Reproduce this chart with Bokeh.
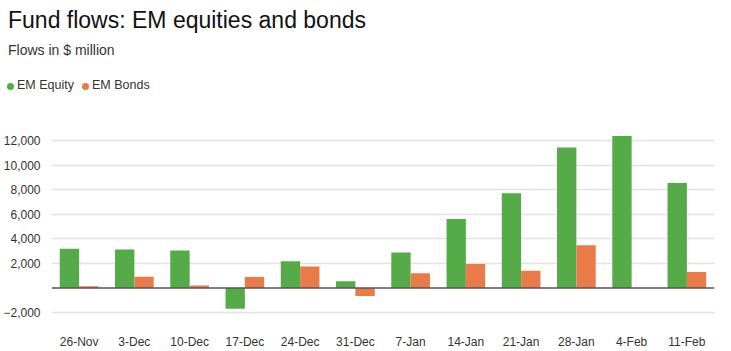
from bokeh.plotting import figure
from bokeh.layouts import column
from bokeh.models import ColumnDataSource, Span, FixedTicker, Div
from bokeh.transform import dodge
from bokeh.embed import file_html
from bokeh.resources import INLINE

weeks = ["26-Nov", "3-Dec", "10-Dec", "17-Dec", "24-Dec", "31-Dec",
         "7-Jan", "14-Jan", "21-Jan", "28-Jan", "4-Feb", "11-Feb"]
em_equity = [3180, 3130, 3050, -1700, 2180, 540, 2880, 5600, 7710, 11430, 12370, 8540]
em_bonds = [130, 910, 200, 890, 1750, -650, 1190, 1940, 1400, 3480, 0, 1290]
y_ticks = [-2000, 2000, 4000, 6000, 8000, 10000, 12000]
y_tick_labels = ["\u22122,000", "2,000", "4,000", "6,000", "8,000", "10,000", "12,000"]
series_names = ["EM Equity", "EM Bonds"]
title_text = "Fund flows: EM equities and bonds"
subtitle_text = "Flows in $ million"

GREEN = "#55ab47"
ORANGE = "#e97b48"
FONT = "Liberation Sans"
HEADER_H = 120

# ---------- header: title, subtitle, legend ----------
def abs_text(left, top, size, color, txt):
    return (f'<div style="position:absolute;left:{left}px;top:{top}px;font-size:{size}px;'
            f'line-height:1;color:{color};white-space:nowrap;">{txt}</div>')

def dot(cx, cy, color, d=7):
    return (f'<div style="position:absolute;left:{cx - d / 2}px;top:{cy - d / 2}px;width:{d}px;'
            f'height:{d}px;border-radius:50%;background:{color};"></div>')

html = (f'<div style="position:relative;width:731px;height:{HEADER_H}px;'
        f"font-family:'{FONT}',Arial,sans-serif;\">"
        + abs_text(8, 8.5, 23, "#111111", title_text)
        + abs_text(8, 43, 14, "#333333", subtitle_text)
        + dot(10.5, 86, GREEN) + abs_text(17, 79, 12.5, "#333333", series_names[0])
        + dot(85.5, 86, ORANGE) + abs_text(92, 79, 12.5, "#333333", series_names[1])
        + '</div>')
header = Div(text=html, width=731, height=HEADER_H, margin=(0, 0, 0, 0))

# ---------- bar chart ----------
src = ColumnDataSource(dict(week=weeks, eq=em_equity, bd=em_bonds))

p = figure(width=731, height=351 - HEADER_H, x_range=weeks, y_range=(-2730, 12810),
           title=None, output_backend="svg", toolbar_location=None,
           min_border_left=50, min_border_right=17, min_border_top=130 - HEADER_H,
           min_border_bottom=29, margin=(0, 0, 0, 0))
p.outline_line_color = None

p.vbar(x=dodge("week", -0.175, range=p.x_range), top="eq", width=0.35,
       source=src, fill_color=GREEN, line_color=None, legend_label=series_names[0])
p.vbar(x=dodge("week", 0.175, range=p.x_range), top="bd", width=0.35,
       source=src, fill_color=ORANGE, line_color=None, legend_label=series_names[1])
p.legend.visible = False

p.add_layout(Span(location=0, dimension="width", line_color="#555555", line_width=1.5))

p.xgrid.grid_line_color = None
p.ygrid.grid_line_color = "#e2e2e2"
p.ygrid.grid_line_width = 1.5
p.yaxis.ticker = FixedTicker(ticks=y_ticks)
p.yaxis.major_label_overrides = dict(zip(y_ticks, y_tick_labels))
for ax in (p.xaxis[0], p.yaxis[0]):
    ax.axis_line_color = None
    ax.major_tick_line_color = None
    ax.minor_tick_line_color = None
    ax.major_label_text_font = FONT
    ax.major_label_text_font_size = "12px"
    ax.major_label_text_color = "#333333"
p.yaxis.major_label_standoff = 5
p.xaxis.major_label_standoff = 7

layout = column(header, p, spacing=0)
open("out.html", "w").write(file_html(layout, INLINE))
